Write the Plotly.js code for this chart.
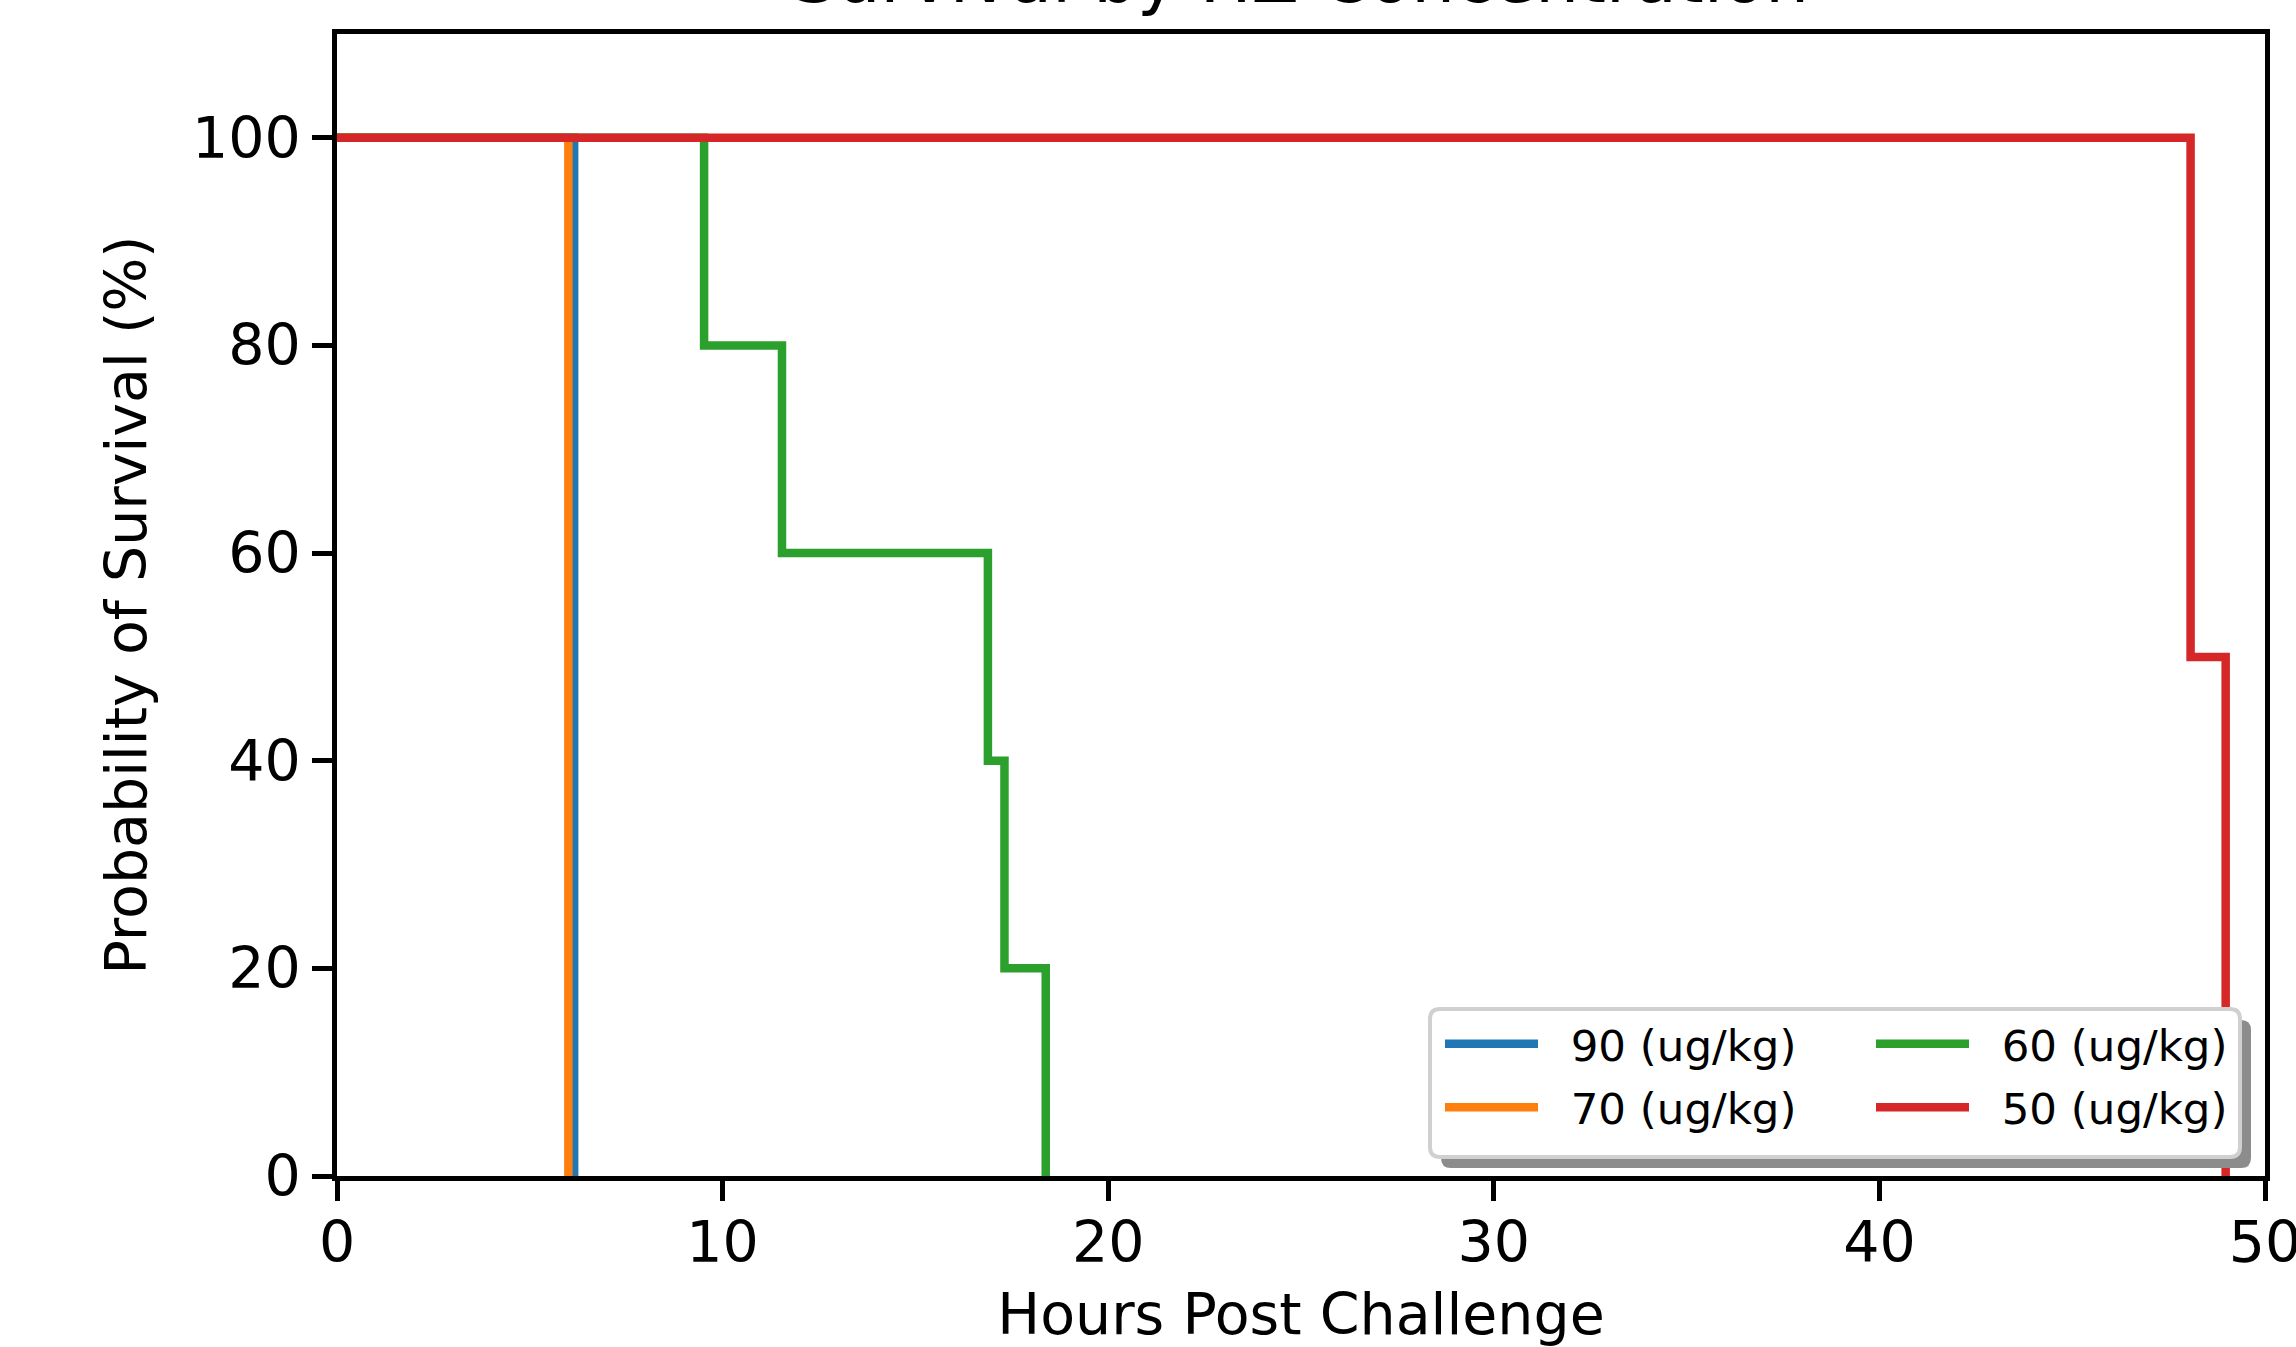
<!DOCTYPE html>
<html>
<head>
<meta charset="utf-8">
<script src="https://cdn.plot.ly/plotly-3.0.1.min.js"></script>
<style>
  html, body { margin: 0; padding: 0; background: #ffffff; }
  #chart { width: 2296px; height: 1347px; }
</style>
</head>
<body>
<div id="chart"></div>
<script>
// ---- Data ----
const seriesNames = ["90 (ug/kg)", "70 (ug/kg)", "60 (ug/kg)", "50 (ug/kg)"];
const seriesColors = ["#1f77b4", "#ff7f0e", "#2ca02c", "#d62728"];

const hours90 = [0, 6.15];
const surv90  = [100, 0];

const hours70 = [0, 6.0];
const surv70  = [100, 0];

const hours60 = [0, 9.52, 11.54, 16.88, 17.31, 18.38];
const surv60  = [100, 80, 60, 40, 20, 0];

const hours50 = [0, 48.07, 48.98];
const surv50  = [100, 50, 0];

const xTicks = [0, 10, 20, 30, 40, 50];
const yTicks = [0, 20, 40, 60, 80, 100];

const titleText = "Survival by HZ Concentration";
const xTitle = "Hours Post Challenge";
const yTitle = "Probability of Survival (%)";

// ---- Build ----
const xs = [hours90, hours70, hours60, hours50];
const ys = [surv90, surv70, surv60, surv50];
const legendIds = ["legend", "legend", "legend2", "legend2"];

const FONT = "DejaVu Sans, Liberation Sans, sans-serif";
const GAP = "\u00a0\u00a0"; // spacing between legend line and label

const traces = seriesNames.map((name, i) => ({
  type: "scatter",
  mode: "lines",
  name: GAP + name,
  x: xs[i],
  y: ys[i],
  line: { color: seriesColors[i], width: 8.5, shape: "hv" },
  legend: legendIds[i],
  legendgroup: "g" + i,
  hovertemplate: name + "<br>%{x} h, %{y}%<extra></extra>"
}));

// plot area in pixels
const W = 2296, H = 1347;
const mL = 337, mR = 31, mT = 34, mB = 171;
const pw = W - mL - mR, ph = H - mT - mB;
const px = v => (v - mL) / pw;          // pixel x -> paper
const py = v => (H - mB - v) / ph;      // pixel y -> paper

const axisCommon = {
  showgrid: false,
  zeroline: false,
  showline: true,
  linecolor: "#000000",
  linewidth: 4.5,
  mirror: true,
  ticks: "outside",
  ticklen: 20,
  tickwidth: 4.5,
  tickcolor: "#000000",
  tickfont: { family: FONT, size: 57, color: "#000000" },
  ticklabeloverflow: "allow",
  automargin: false
};

const legendCommon = {
  bgcolor: "rgba(0,0,0,0)",
  borderwidth: 0,
  font: { family: FONT, size: 43.5, color: "#000000" },
  orientation: "v",
  xanchor: "left",
  yanchor: "top",
  itemwidth: 93,
  tracegroupgap: 4,
  itemclick: false,
  itemdoubleclick: false
};

// rounded rectangle path in paper coordinates
function roundRect(x0p, y0p, x1p, y1p, rPx) {
  const x0 = px(x0p), x1 = px(x1p), yb = py(y1p), yt = py(y0p);
  const rx = rPx / pw, ry = rPx / ph;
  return `M${x0 + rx},${yt} L${x1 - rx},${yt} Q${x1},${yt} ${x1},${yt - ry} ` +
         `L${x1},${yb + ry} Q${x1},${yb} ${x1 - rx},${yb} ` +
         `L${x0 + rx},${yb} Q${x0},${yb} ${x0},${yb + ry} ` +
         `L${x0},${yt - ry} Q${x0},${yt} ${x0 + rx},${yt} Z`;
}

const layout = {
  width: W,
  height: H,
  margin: { l: mL, r: mR, t: mT, b: mB, pad: 0 },
  paper_bgcolor: "#ffffff",
  plot_bgcolor: "#ffffff",
  font: { family: FONT, color: "#000000" },
  title: {
    text: titleText,
    font: { family: FONT, size: 69, color: "#000000" },
    x: 0.5, xref: "paper", xanchor: "center",
    y: 1, yref: "paper", yanchor: "bottom",
    pad: { b: 32 }
  },
  xaxis: Object.assign({}, axisCommon, {
    range: [0, 50],
    tickvals: xTicks,
    ticktext: xTicks.map(String),
    ticklabelstandoff: -7,
    title: { text: xTitle, font: { family: FONT, size: 57, color: "#000000" }, standoff: 61 }
  }),
  yaxis: Object.assign({}, axisCommon, {
    range: [0, 110],
    tickvals: yTicks,
    ticktext: yTicks.map(String),
    ticklabelstandoff: 0,
    title: { text: yTitle, font: { family: FONT, size: 57, color: "#000000" }, standoff: 29 }
  }),
  showlegend: true,
  legend: Object.assign({}, legendCommon, { x: px(1440), y: py(1009) }),
  legend2: Object.assign({}, legendCommon, { x: px(1871), y: py(1009) }),
  shapes: [
    // legend shadow
    {
      type: "path", xref: "paper", yref: "paper", layer: "above",
      path: roundRect(1441, 1020, 2251, 1168, 10),
      fillcolor: "#8c8c8c", line: { width: 0 }
    },
    // legend frame
    {
      type: "path", xref: "paper", yref: "paper", layer: "above",
      path: roundRect(1430, 1009, 2240, 1157, 10),
      fillcolor: "#ffffff", line: { color: "#d0d0d0", width: 4 }
    }
  ]
};

Plotly.newPlot("chart", traces, layout, { displayModeBar: false, responsive: false });
</script>
</body>
</html>
